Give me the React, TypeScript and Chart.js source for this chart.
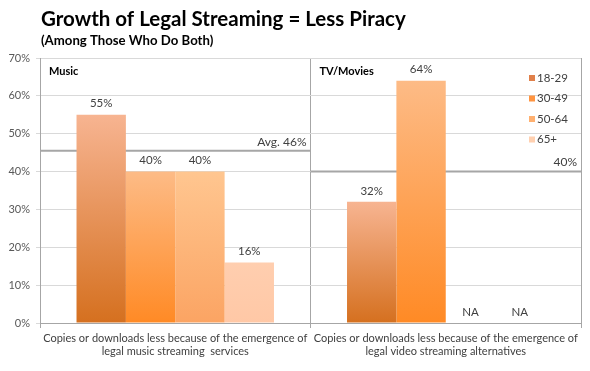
import React, { useEffect, useRef } from "react";
import { Chart, registerables } from "chart.js";

Chart.register(...registerables);

const categories: string[][] = [
  ["Copies or downloads less because of the emergence of", "legal music streaming  services"],
  ["Copies or downloads less because of the emergence of", "legal video streaming alternatives"],
];
const seriesNames = ["18-29", "30-49", "50-64", "65+"];
const s1829: (number | null)[] = [55, 32];
const s3049: (number | null)[] = [40, 64];
const s5064: (number | null)[] = [40, null];
const s65: (number | null)[] = [16, null];
const panelLabels = ["Music", "TV/Movies"];
const avgValues = [45.5, 40];
const avgLabels = ["Avg. 46%", "40%"];
const yTicks = [0, 10, 20, 30, 40, 50, 60, 70];

const topColors = ["#F7B491", "#FDBB86", "#FFC690", "#FFCEAF"];
const bottomColors = ["#D5701F", "#FF8A25", "#FBA463", "#FFC8A6"];
const legendColors = ["#E0804A", "#FF9440", "#FFB070", "#FFD0B0"];

const FONT = "Lato, 'Open Sans', sans-serif";
const CAT_PCT = 0.73;

export default function App() {
  const ref = useRef<HTMLCanvasElement | null>(null);
  useEffect(() => {
    if (!ref.current) return;
    const series = [s1829, s3049, s5064, s65];

    const overlay = {
      id: "overlay",
      beforeDatasetsDraw(chart: any) {
        const { ctx, chartArea, scales } = chart;
        const y = scales.y;
        const catW = (chartArea.right - chartArea.left) / categories.length;
        ctx.save();
        avgValues.forEach((v, i) => {
          const py = y.getPixelForValue(v);
          ctx.strokeStyle = "#A6A6A6";
          ctx.lineWidth = 2;
          ctx.beginPath();
          ctx.moveTo(chartArea.left + catW * i, py);
          ctx.lineTo(chartArea.left + catW * (i + 1), py);
          ctx.stroke();
        });
        ctx.restore();
      },
      afterDatasetsDraw(chart: any) {
        const { ctx, chartArea, scales } = chart;
        const x = scales.x, y = scales.y;
        const catW = (chartArea.right - chartArea.left) / categories.length;
        ctx.save();
        ctx.fillStyle = "#000000";
        ctx.textAlign = "left";
        ctx.textBaseline = "middle";
        ctx.font = `bold 20.5px ${FONT}`;
        ctx.fillText("Growth of Legal Streaming = Less Piracy", 41, 19);
        ctx.font = `bold 13.2px ${FONT}`;
        ctx.fillText("(Among Those Who Do Both)", 41, 41);
        ctx.font = `bold 11px ${FONT}`;
        panelLabels.forEach((t, i) => {
          ctx.fillText(t, chartArea.left + catW * i + 9, 71);
        });
        ctx.font = `12px ${FONT}`;
        ctx.fillStyle = "#404040";
        ctx.textAlign = "right";
        avgValues.forEach((v, i) => {
          const py = y.getPixelForValue(v);
          ctx.fillText(avgLabels[i], chartArea.left + catW * (i + 1) - 4, py - 9);
        });
        ctx.textAlign = "center";
        ctx.font = `11.5px ${FONT}`;
        series.forEach((data, di) => {
          data.forEach((v, idx) => {
            const center = x.getPixelForValue(idx);
            const group = catW * CAT_PCT;
            const slot = group / series.length;
            const cx = center - group / 2 + slot * (di + 0.5);
            if (v === null) {
              ctx.fillText("NA", cx, y.getPixelForValue(0) - 11);
            } else {
              ctx.fillText(`${v}%`, cx, y.getPixelForValue(v) - 11);
            }
          });
        });
        ctx.textAlign = "left";
        ctx.font = `11.5px ${FONT}`;
        seriesNames.forEach((n, i) => {
          const ly = 78 + i * 20.5;
          ctx.fillStyle = legendColors[i];
          ctx.fillRect(529, ly - 3, 6, 6);
          ctx.fillStyle = "#404040";
          ctx.fillText(n, 537, ly);
        });
        ctx.restore();
      },
    };

    const grad = (di: number) => (c: any) => {
      const chart = c.chart;
      const area = chart.chartArea;
      if (!area || c.raw === null || c.raw === undefined) return bottomColors[di];
      const y = chart.scales.y;
      const top = y.getPixelForValue(c.raw);
      const bot = y.getPixelForValue(0);
      const g = chart.ctx.createLinearGradient(0, top, 0, bot);
      g.addColorStop(0, topColors[di]);
      g.addColorStop(1, bottomColors[di]);
      return g;
    };

    const chart = new Chart(ref.current, {
      type: "bar",
      data: {
        labels: categories,
        datasets: series.map((d, i) => ({
          label: seriesNames[i],
          data: d,
          backgroundColor: grad(i),
          borderWidth: 0,
          categoryPercentage: CAT_PCT,
          barPercentage: 1,
        })),
      },
      options: {
        animation: false,
        responsive: true,
        maintainAspectRatio: false,
        layout: { padding: { left: 0, top: 58, right: 9, bottom: 0 } },
        plugins: {
          legend: { display: false },
          title: { display: false },
          tooltip: { enabled: false },
        },
        scales: {
          x: {
            offset: true,
            grid: {
              offset: true,
              color: "#A6A6A6",
              lineWidth: 1,
              tickLength: 5,
              drawTicks: true,
            },
            border: { color: "#A6A6A6", width: 1 },
            ticks: {
              autoSkip: false,
              maxRotation: 0,
              minRotation: 0,
              color: "#404040",
              font: { family: FONT, size: 11 },
              padding: 4,
            },
            afterFit: (s: any) => {
              s.height = 48;
            },
          },
          y: {
            min: 0,
            max: 70,
            afterBuildTicks: (s: any) => {
              s.ticks = yTicks.map((v) => ({ value: v }));
            },
            grid: { color: "#D9D9D9", lineWidth: 1, tickLength: 4 },
            border: { color: "#A6A6A6", width: 1 },
            ticks: {
              color: "#595959",
              font: { family: FONT, size: 11 },
              padding: 6,
              callback: (v: any) => `${v}%`,
            },
            afterFit: (s: any) => {
              s.width = 40;
            },
          },
        },
      },
      plugins: [overlay],
    });
    return () => chart.destroy();
  }, []);

  return (
    <div style={{ position: "fixed", left: 0, top: 0, width: 590, height: 371, background: "#fff" }}>
      <canvas ref={ref} />
    </div>
  );
}
